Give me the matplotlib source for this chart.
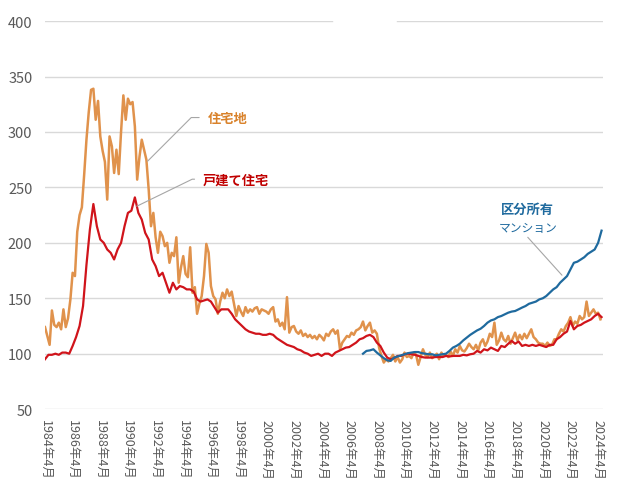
import matplotlib
matplotlib.use("Agg")
import matplotlib.pyplot as plt
import pandas as pd

plt.rcParams['font.family'] = ['Noto Sans CJK JP', 'DejaVu Sans']

# 住宅地 (bimonthly, Apr..Feb per row)
land = [
    124, 116, 108, 139, 126, 124,
    128, 122, 140, 124, 132, 149,
    173, 170, 210, 225, 232, 262,
    293, 318, 338, 339, 311, 328,
    296, 283, 273, 239, 296, 287,
    263, 284, 262, 300, 333, 311,
    330, 325, 327, 305, 257, 278,
    293, 284, 275, 248, 215, 227,
    205, 191, 210, 206, 197, 200,
    182, 191, 188, 205, 164, 178,
    188, 172, 169, 196, 155, 160,
    136, 145, 152, 170, 199, 191,
    161, 152, 149, 136, 147, 155,
    150, 158, 152, 156, 145, 134,
    143, 138, 134, 142, 137, 140,
    138, 141, 142, 136, 140, 139,
    138, 136, 140, 142, 129, 131,
    125, 128, 122, 151, 119, 124,
    125, 120, 118, 121, 116, 118,
    115, 117, 114, 116, 113, 117,
    115, 112, 118, 116, 120, 122,
    118, 121, 104, 110, 113, 116,
    115, 119, 117, 121, 122, 124,
    129, 121, 125, 128, 119, 121,
    118, 105, 98, 92, 95, 93,
    96, 99, 93, 97, 92, 95,
    101, 97, 98, 96, 101, 99,
    90, 97, 104, 99, 97, 101,
    96, 98, 100, 95, 101, 98,
    99, 97, 102, 98, 104, 101,
    107, 103, 102, 105, 109, 106,
    104, 108, 103, 110, 113, 107,
    111, 118, 115, 128, 108, 112,
    119, 113, 111, 116, 109, 114,
    119, 112, 117, 113, 118, 114,
    118, 122, 115, 113, 110, 109,
    109, 107, 110, 107, 108, 113,
    113, 118, 122, 120, 125, 128,
    133, 125, 129, 127, 134, 131,
    133, 147, 134, 137, 140, 136,
    137, 131,
]

# 戸建て住宅 (quarterly, Apr/Jul/Oct/Jan per row)
house = [
    95, 99, 99, 100,
    99, 101, 101, 100,
    107, 115, 125, 143,
    180, 212, 235, 215,
    203, 200, 194, 191,
    185, 194, 200, 215,
    227, 229, 241, 227,
    221, 209, 203, 185,
    179, 170, 173, 164,
    155, 164, 158, 161,
    160, 158, 158, 156,
    149, 147, 148, 149,
    147, 142, 137, 140,
    140, 140, 136, 131,
    128, 125, 122, 120,
    119, 118, 118, 117,
    117, 118, 117, 114,
    112, 110, 108, 107,
    106, 104, 103, 101,
    100, 98, 99, 100,
    98, 100, 100, 98,
    101, 102.5, 104, 105.5,
    106, 108, 110, 113,
    114, 116, 117, 115,
    110, 107, 101, 96.5,
    95, 96, 98, 98,
    99.5, 100, 99.5, 99,
    98, 97, 96.5, 96.5,
    96.5, 97, 97, 97,
    98, 97.5, 98, 98,
    98, 99, 98.5, 99.5,
    100, 102.5, 101, 104,
    103, 105.5, 104, 102.5,
    107, 106, 109, 111.5,
    109, 111, 107, 108,
    107, 108, 107, 108,
    107, 106, 108, 108,
    113, 115, 118, 120,
    129.5, 122, 125, 126,
    128, 129.5, 131, 134,
    136, 133,
]

# 区分所有マンション (quarterly from 2007-04)
condo = [
    100, 102.5, 103, 104,
    101, 98.5, 96, 94,
    93.5, 96.5, 97.5, 98.5,
    99.5, 100.5, 101, 101.5,
    101.5, 100.5, 100, 99.5,
    99.5, 98.5, 99, 99.5,
    100, 102.5, 105.5, 107,
    109, 112, 114.5, 117,
    119, 121, 122.5, 125,
    128, 130, 131, 133,
    134, 135.5, 137, 138,
    138.5, 140, 141.6, 143,
    145, 146, 147, 149,
    150, 152, 155, 158,
    160, 164, 167, 170,
    176, 182, 183, 185,
    187, 190, 192, 194,
    200, 211,
]

land_dates = pd.date_range('1984-04-01', periods=len(land), freq='2MS')
house_dates = pd.date_range('1984-04-01', periods=len(house), freq='QS-JAN')
condo_dates = pd.date_range('2007-04-01', periods=len(condo), freq='QS-JAN')

tick_years = list(range(1984, 2025, 2))
tick_dates = [pd.Timestamp(f'{y}-04-01') for y in tick_years]
tick_labels = [f'{y}年4月' for y in tick_years]

c_land = '#E0924C'
c_house = '#D0141B'
c_condo = '#1F6A9E'
grid_c = '#D9D9D9'

fig = plt.figure(figsize=(6.4, 5.02), dpi=100)
ax = fig.add_axes([0.0703, 0.183, 0.872, 0.773])

for v in range(50, 400, 50):
    ax.axhline(v, color=grid_c, lw=1, zorder=0)
ax.axhline(400, xmin=0, xmax=0.514, color=grid_c, lw=1, zorder=0)
ax.axhline(400, xmin=0.631, xmax=1, color=grid_c, lw=1, zorder=0)

ax.plot(land_dates, land, color=c_land, lw=1.8, zorder=2)
ax.plot(house_dates, house, color=c_house, lw=1.6, zorder=3)
ax.plot(condo_dates, condo, color=c_condo, lw=1.6, zorder=4)

ax.set_ylim(50, 400)
ax.set_xlim(pd.Timestamp('1984-04-01'), pd.Timestamp('2024-08-10'))
ax.set_yticks(range(50, 401, 50))
ax.set_xticks(tick_dates)
ax.set_xticklabels(tick_labels, rotation=270, fontsize=9, color='#595959')
ax.tick_params(axis='y', length=0, pad=9, labelsize=10.5, labelcolor='#595959')
ax.tick_params(axis='x', length=0, pad=7)
for s in ax.spines.values():
    s.set_visible(False)

line_kw = dict(arrowstyle='-', color='#A6A6A6', lw=0.8, shrinkA=4, shrinkB=0)

ax.annotate('住宅地', xy=(pd.Timestamp('1991-09-01'), 273.6),
            xytext=(pd.Timestamp('1996-01-01'), 313), fontsize=9.5,
            fontweight='bold', color='#D9822B', va='center', ha='left',
            arrowprops=dict(connectionstyle='angle,angleA=0,angleB=45',
                            relpos=(0, 0.5), **line_kw))
ax.annotate('戸建て住宅', xy=(pd.Timestamp('1990-11-20'), 233),
            xytext=(pd.Timestamp('1995-09-01'), 257.4), fontsize=9.5,
            fontweight='bold', color='#C00000', va='center', ha='left',
            arrowprops=dict(connectionstyle='angle,angleA=0,angleB=26',
                            relpos=(0, 0.5), **line_kw))

ax.text(pd.Timestamp('2019-03-01'), 231, '区分所有', fontsize=9.5,
        fontweight='bold', color=c_condo, ha='center', va='center')
ax.text(pd.Timestamp('2019-03-01'), 214, 'マンション', fontsize=8.5,
        color=c_condo, ha='center', va='center')
ax.annotate('', xy=(pd.Timestamp('2021-08-20'), 170.8),
            xytext=(pd.Timestamp('2019-03-01'), 205),
            arrowprops=dict(arrowstyle='-', color='#A6A6A6', lw=0.8,
                            shrinkA=0, shrinkB=0))

fig.savefig('out.png', dpi=100)
